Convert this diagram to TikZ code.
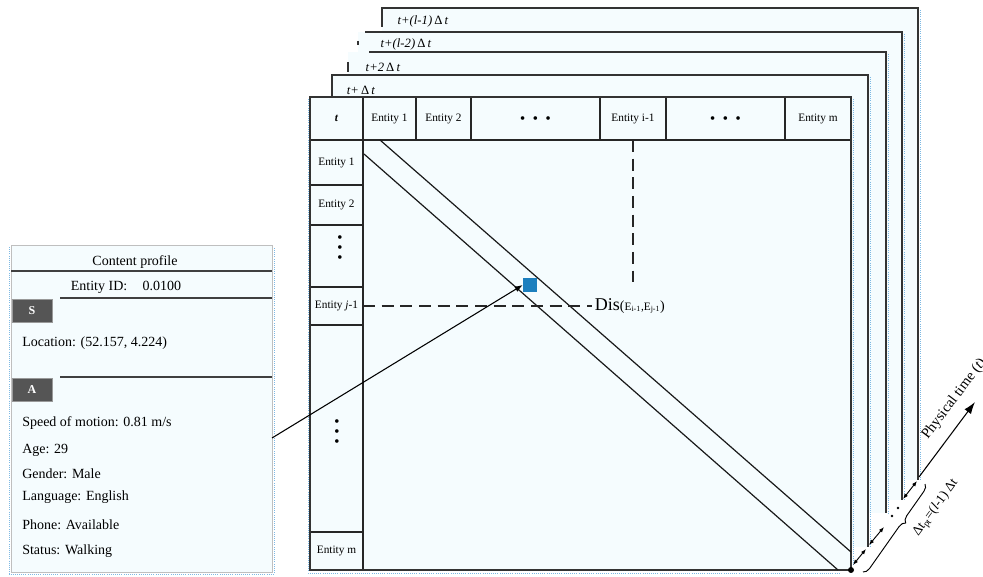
\documentclass[tikz,border=0pt]{standalone}
\usepackage{fontspec}
\setmainfont{Liberation Serif}
\usetikzlibrary{arrows.meta, positioning, decorations.pathreplacing}

\definecolor{paneFill}{RGB}{245,252,254}
\definecolor{cellBlue}{RGB}{28,127,190}
\definecolor{guideBlue}{RGB}{125,185,228}
\definecolor{badgeGray}{RGB}{85,85,85}

\begin{document}
\begin{tikzpicture}[x=0.75pt, y=-0.75pt,
    frame/.style={draw=black!80, line width=0.9pt},
    cell/.style={draw=black!85, line width=0.8pt, fill=paneFill, outer sep=0pt, inner sep=1pt, font=\fontsize{8.5}{10}\selectfont},
    stamp/.style={font=\fontsize{9.5}{11}\selectfont, inner sep=1pt},
    info/.style={font=\fontsize{10.5}{12}\selectfont, anchor=west, inner sep=0pt},
    badge/.style={fill=badgeGray, draw=black!40, text=white, font=\fontsize{9}{10}\selectfont\bfseries, minimum width=30pt, minimum height=17.25pt, inner sep=0pt},
    vdots/.style={font=\fontsize{6.5}{7.5}\selectfont, align=center, inner sep=0pt},
    rule/.style={draw=black!75, line width=0.8pt},
    line/.style={draw=black!90, line width=0.9pt},
    dashline/.style={draw=black!85, line width=0.9pt, dash pattern=on 9pt off 5pt},
    guide/.style={draw=guideBlue, densely dotted, line width=0.6pt},
    arrow/.style={-{Latex[length=6pt, width=4.5pt]}, line width=0.8pt},
    twoway/.style={{Latex[length=4pt, width=3pt]}-{Latex[length=4pt, width=3pt]}, line width=0.7pt},
    brace/.style={decorate, decoration={brace, amplitude=5pt, aspect=0.4}, line width=0.7pt},
]

\useasboundingbox (0,0) rectangle (983,577);

% Back frames (t+(l-1) first, then forwards)
\fill[paneFill] (382,8) rectangle (918,480);
\draw[frame] (382,27) -- (382,8) -- (918,8) -- (918,480);
\draw[guide] (920,10) -- (920,480);
\node[stamp] (stamp_4) at (423,21) {\textit{t+(l-1)}\,Δ\,\textit{t}};

\fill[paneFill] (358,32) rectangle (902,500);
\draw[frame] (365,32) -- (902,32) -- (902,500);
\draw[frame] (358,41) -- (358,45);
\draw[guide] (904,34) -- (904,500);
\node[stamp] (stamp_3) at (406,44) {\textit{t+(l-2)}\,Δ\,\textit{t}};

\fill[paneFill] (348,52) rectangle (886,513);
\draw[frame] (369,52) -- (886,52) -- (886,513);
\draw[frame] (348,62) -- (348,72);
\draw[guide] (888,54) -- (888,513);
\node[stamp] (stamp_2) at (383,67) {\textit{t+2}\,Δ\,\textit{t}};

\fill[paneFill] (332,75) rectangle (868,547);
\draw[frame] (332,97) -- (332,75) -- (868,75) -- (868,547);
\draw[guide] (870,77) -- (870,547);
\node[stamp] (stamp_1) at (361,90) {\textit{t+}\,Δ\,\textit{t}};

% Front frame
\fill[paneFill] (310,97) rectangle (851,570);

% Header row
\node[cell, minimum width=39.75pt, minimum height=32.25pt] (hd_t) at (336.5,118.5) {\textbf{\textit{t}}};
\node[cell, minimum width=39.75pt, minimum height=32.25pt] (hd_e1) at (389.5,118.5) {Entity 1};
\node[cell, minimum width=41.25pt, minimum height=32.25pt] (hd_e2) at (443.5,118.5) {Entity 2};
\node[cell, minimum width=96.75pt, minimum height=32.25pt, font=\fontsize{6.5}{8}\selectfont] (hd_dots1) at (535.5,118.5) {$\bullet\hspace{4pt}\bullet\hspace{4pt}\bullet$};
\node[cell, minimum width=49.5pt, minimum height=32.25pt] (hd_ei1) at (633,118.5) {Entity i-1};
\node[cell, minimum width=89.25pt, minimum height=32.25pt, font=\fontsize{6.5}{8}\selectfont] (hd_dots2) at (725.5,118.5) {$\bullet\hspace{4pt}\bullet\hspace{4pt}\bullet$};
\node[cell, minimum width=49.5pt, minimum height=32.25pt] (hd_em) at (818,118.5) {Entity m};

% Left column
\node[cell, minimum width=39.75pt, minimum height=33.75pt] (row_e1) at (336.5,162.5) {Entity 1};
\node[cell, minimum width=39.75pt, minimum height=30pt] (row_e2) at (336.5,205) {Entity 2};
\node[cell, minimum width=39.75pt, minimum height=46.5pt] (row_dots1) at (336.5,256) {};
\node[cell, minimum width=39.75pt, minimum height=28.5pt] (row_ej1) at (336.5,306) {Entity \textit{j}-1};
\node[cell, minimum width=39.75pt, minimum height=155.25pt] (row_dots2) at (336.5,428.5) {};
\node[cell, minimum width=39.75pt, minimum height=28.5pt] (row_em) at (336.5,551) {Entity m};
\node[vdots] (vdots_1) at (340,248) {$\bullet$\\$\bullet$\\$\bullet$};
\node[vdots] (vdots_2) at (337,432) {$\bullet$\\$\bullet$\\$\bullet$};

\draw[frame] (310,97) rectangle (851,570);
\draw[guide] (853,99) -- (853,566);
\draw[guide] (308,99) -- (308,573) -- (840,573);

% Diagonal band
\draw[line] (364,154) -- (838,570);
\draw[line] (380,140) -- (851,552);

% Pairwise distance
\node[fill=cellBlue, minimum size=10.5pt, inner sep=0pt] (sq) at (530,285) {};
\node[anchor=west, inner sep=2pt] (dis) at (592,306) {{\fontsize{13.5}{15}\selectfont Dis}{\fontsize{10.5}{12}\selectfont (}{\fontsize{8.5}{10}\selectfont E\textsubscript{i-1},E\textsubscript{j-1}}{\fontsize{10.5}{12}\selectfont )}};
\draw[dashline] (row_ej1.east) -- (dis.west);
\draw[dashline] (hd_ei1.south) -- ++(0,142);

% Content profile
\node[draw=black!25, fill=paneFill, minimum width=195.75pt, minimum height=245.25pt, inner sep=0pt] (profile) at (141.5,408.5) {};
\draw[guide] (9,247) -- (9,574) -- (274,574) -- (274,247);
\node[info, anchor=center] (prof_title) at (135,262) {Content profile};
\draw[rule] (11,271) -- (272,271);
\node[info, anchor=center] (prof_id) at (126,287) {Entity ID:\hspace{1.1em}0.0100};
\draw[rule] (60,298) -- (272,298);
\node[badge] (badge_s) at (32,310.5) {S};
\node[info] (prof_loc) at (22,343) {Location: (52.157, 4.224)};
\draw[rule] (60,377) -- (272,377);
\node[badge] (badge_a) at (32,389.5) {A};
\node[info] (prof_speed) at (22,423) {Speed of motion: 0.81 m/s};
\node[info] (prof_age) at (22,450) {Age: 29};
\node[info] (prof_gender) at (22,474) {Gender: Male};
\node[info] (prof_lang) at (22,497) {Language: English};
\node[info] (prof_phone) at (22,525) {Phone: Available};
\node[info] (prof_status) at (22,551) {Status: Walking};

\coordinate (link_from) at (272,438);
\draw[arrow] (link_from) -- (sq.west);

% Time axis
\fill (851,570) circle (3);
\draw[twoway] (853,565) -- (866,549);
\draw[twoway] (869,545) -- (884,527);
\fill (892,516) circle (1.3);
\fill (898,508) circle (1.3);
\draw[twoway] (903,499) -- (917,481);
\coordinate (time_from) at (919,477);
\coordinate (time_to) at (975,402);
\draw[-{Latex[length=9pt, width=6pt]}, line width=0.8pt] (time_from) -- (time_to);
\node[font=\fontsize{11}{13}\selectfont, rotate=53, anchor=south west, inner sep=2pt] (time_lbl) at (931,446) {Physical time (\textit{t})};
\draw[brace] (925,484) -- (863,572);
\node[font=\fontsize{10}{12}\selectfont, rotate=54, inner sep=1pt] (span_lbl) at (936,508) {Δt\textsubscript{pt}=(\textit{l}-1) Δt};

\end{tikzpicture}
\end{document}
